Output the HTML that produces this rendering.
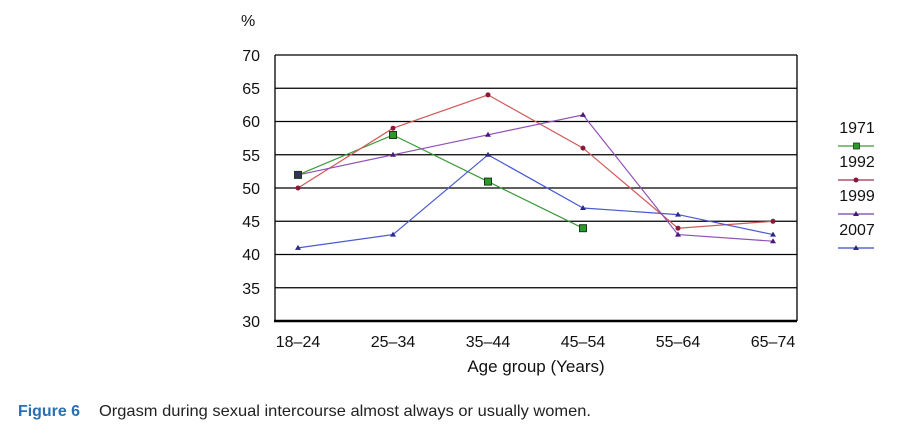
<!DOCTYPE html>
<html><head><meta charset="utf-8"><style>html,body{margin:0;padding:0;background:#fff;width:905px;height:441px;overflow:hidden}</style></head><body>
<svg width="905" height="441" xmlns="http://www.w3.org/2000/svg" font-family="Liberation Sans, Arial, sans-serif">
<rect width="905" height="441" fill="#fff"/>
<g stroke="#000" stroke-width="1.3">
<line x1="275" y1="55" x2="797" y2="55"/>
<line x1="275" y1="88.25" x2="797" y2="88.25"/>
<line x1="275" y1="121.5" x2="797" y2="121.5"/>
<line x1="275" y1="154.75" x2="797" y2="154.75"/>
<line x1="275" y1="188" x2="797" y2="188"/>
<line x1="275" y1="221.25" x2="797" y2="221.25"/>
<line x1="275" y1="254.5" x2="797" y2="254.5"/>
<line x1="275" y1="287.75" x2="797" y2="287.75"/>
<line x1="797" y1="55" x2="797" y2="321"/>
<line x1="275" y1="55" x2="275" y2="321"/>
</g>
<line x1="274" y1="321" x2="797" y2="321" stroke="#000" stroke-width="2.5"/>
<g font-size="16" fill="#111" text-anchor="end">
<text x="260" y="61">70</text><text x="260" y="94">65</text><text x="260" y="127">60</text><text x="260" y="161">55</text><text x="260" y="194">50</text><text x="260" y="227">45</text><text x="260" y="260">40</text><text x="260" y="294">35</text><text x="260" y="327">30</text>
</g>
<text x="241" y="26" font-size="16" fill="#111">%</text>
<g font-size="16" fill="#111" text-anchor="middle">
<text x="298" y="347">18–24</text><text x="393" y="347">25–34</text><text x="488" y="347">35–44</text><text x="583" y="347">45–54</text><text x="678" y="347">55–64</text><text x="773" y="347">65–74</text>
<text x="536" y="372" font-size="17">Age group (Years)</text>
</g>
<polyline points="298,174.9 393,135 488,181.6 583,228.2" fill="none" stroke="#3a9a3a" stroke-width="1.2"/>
<polyline points="298,188 393,128.2 488,94.9 583,148.1 678,228.2 773,221.3" fill="none" stroke="#d05a5a" stroke-width="1.2"/>
<polyline points="298,174.9 393,154.8 488,134.8 583,114.9 678,234.6 773,241.2" fill="none" stroke="#9050b8" stroke-width="1.2"/>
<polyline points="298,247.9 393,234.6 488,154.8 583,208 678,214.6 773,234.6" fill="none" stroke="#4a5ad0" stroke-width="1.2"/>
<g fill="#8b1a3a"><circle cx="298" cy="188" r="2.5"/><circle cx="393" cy="128.2" r="2.5"/><circle cx="488" cy="94.9" r="2.5"/><circle cx="583" cy="148.1" r="2.5"/><circle cx="678" cy="228.2" r="2.5"/><circle cx="773" cy="221.3" r="2.5"/></g>
<g fill="#4a1a7a"><path d="M393,151.8 l3,5 h-6z"/><path d="M488,131.8 l3,5 h-6z"/><path d="M583,111.9 l3,5 h-6z"/><path d="M678,231.6 l3,5 h-6z"/><path d="M773,238.2 l3,5 h-6z"/></g>
<g fill="#2a2a8a"><path d="M298,244.9 l3,5 h-6z"/><path d="M393,231.6 l3,5 h-6z"/><path d="M488,151.8 l3,5 h-6z"/><path d="M583,205 l3,5 h-6z"/><path d="M678,211.6 l3,5 h-6z"/><path d="M773,231.6 l3,5 h-6z"/></g>
<g fill="#2a9a2a" stroke="#1a3a1a" stroke-width="1"><rect x="294.5" y="171.4" width="7" height="7" fill="#333355"/><rect x="389.5" y="131.5" width="7" height="7"/><rect x="484.5" y="178.1" width="7" height="7"/><rect x="579.5" y="224.7" width="7" height="7"/></g>
<g font-size="16" fill="#111" text-anchor="middle">
<text x="857" y="133">1971</text><text x="857" y="167">1992</text><text x="857" y="201">1999</text><text x="857" y="235">2007</text>
</g>
<line x1="838" y1="146" x2="874" y2="146" stroke="#3a9a3a" stroke-width="1.2"/><rect x="853.5" y="143" width="6" height="6" fill="#2a9a2a" stroke="#1a3a1a" stroke-width="0.8"/>
<line x1="838" y1="180" x2="874" y2="180" stroke="#a03050" stroke-width="1.2"/><circle cx="856" cy="180" r="2.5" fill="#8b1a3a"/>
<line x1="838" y1="214" x2="874" y2="214" stroke="#7040a0" stroke-width="1.2"/><path d="M856,211 l3,5 h-6z" fill="#4a1a7a"/>
<line x1="838" y1="248" x2="874" y2="248" stroke="#3a4ac0" stroke-width="1.2"/><path d="M856,245 l3,5 h-6z" fill="#2a2a8a"/>
<text x="18" y="416" font-size="16" font-weight="bold" fill="#2a6fb0" textLength="62" lengthAdjust="spacingAndGlyphs">Figure 6</text>
<text x="99" y="416" font-size="16" fill="#222" textLength="492" lengthAdjust="spacingAndGlyphs">Orgasm during sexual intercourse almost always or usually women.</text>
</svg>
</body></html>
